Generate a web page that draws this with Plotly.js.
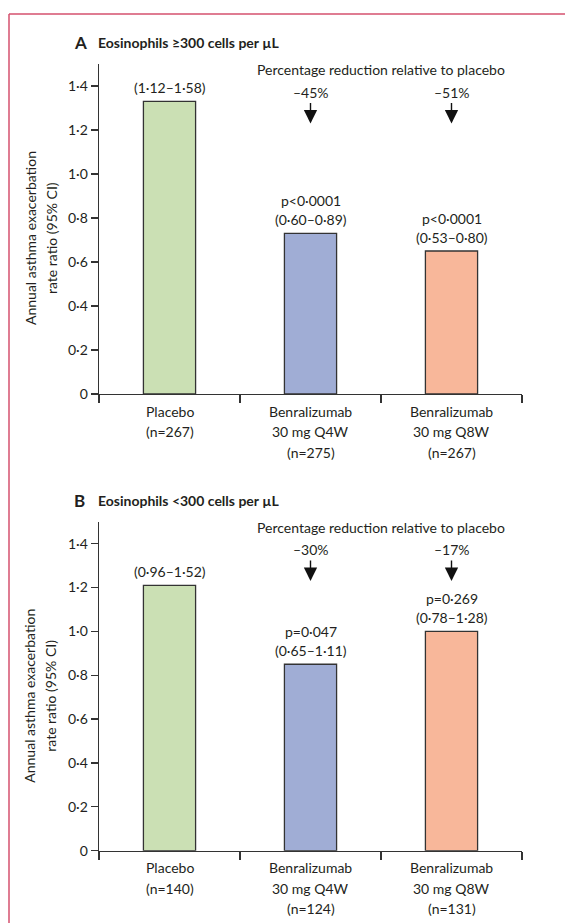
<!DOCTYPE html>
<html>
<head>
<meta charset="utf-8">
<script src="https://cdn.plot.ly/plotly-3.0.1.min.js"></script>
<style>html,body{margin:0;padding:0;background:#fff;}#chart{width:565px;height:923px;}</style>
</head>
<body>
<div id="chart"></div>
<script>
// ---------- data ----------
var categories = ['Placebo', 'Benralizumab 30 mg Q4W', 'Benralizumab 30 mg Q8W'];
var tickLinesA = [['Placebo', '(n=267)'], ['Benralizumab', '30 mg Q4W', '(n=275)'], ['Benralizumab', '30 mg Q8W', '(n=267)']];
var tickLinesB = [['Placebo', '(n=140)'], ['Benralizumab', '30 mg Q4W', '(n=124)'], ['Benralizumab', '30 mg Q8W', '(n=131)']];
var valuesA = [1.33, 0.73, 0.65];
var valuesB = [1.21, 0.85, 1.00];
var ciA = ['(1·12–1·58)', '(0·60–0·89)', '(0·53–0·80)'];
var ciB = ['(0·96–1·52)', '(0·65–1·11)', '(0·78–1·28)'];
var pA = ['', 'p&lt;0·0001', 'p&lt;0·0001'];
var pB = ['', 'p=0·047', 'p=0·269'];
var reductionA = ['', '–45%', '–51%'];
var reductionB = ['', '–30%', '–17%'];
var titleA = 'Eosinophils ≥300 cells per µL';
var titleB = 'Eosinophils &lt;300 cells per µL';
var yTickVals = [0, 0.2, 0.4, 0.6, 0.8, 1.0, 1.2, 1.4];
var yTickText = ['0', '0·2', '0·4', '0·6', '0·8', '1·0', '1·2', '1·4'];
var yTitleLines = ['Annual asthma exacerbation', 'rate ratio (95% CI)'];
var reductionHeader = 'Percentage reduction relative to placebo';
var barColors = ['#cbe0b4', '#a0add5', '#f8b79a'];

// ---------- layout helpers ----------
var W = 565, H = 923;
function px(x) { return x / W; }
function py(y) { return 1 - y / H; }
var FONT = 'Lato, "Open Sans", sans-serif';
var TXT = '#231f20';
var AX = '#333333';

function yAxis(top, bottom) {
  return {
    domain: [py(bottom), py(top)], range: [0, 1.5], tickvals: yTickVals, ticktext: yTickText,
    showline: true, linecolor: AX, linewidth: 1.3, ticks: 'outside', ticklen: 7, tickwidth: 1.3,
    tickcolor: AX, showgrid: false, zeroline: false, tickfont: {family: FONT, size: 14, color: TXT},
    fixedrange: true
  };
}
function xAxis(anchor) {
  return {
    domain: [px(99), px(522)], type: 'category', categoryarray: categories, range: [-0.5, 2.5],
    tickson: 'boundaries', showticklabels: false,
    ticks: 'outside', ticklen: 8, tickwidth: 1.3, tickcolor: AX, showline: true, linecolor: AX,
    linewidth: 1.3, showgrid: false, zeroline: false, anchor: anchor, fixedrange: true
  };
}

var traces = [
  {type: 'bar', x: categories, y: valuesA, xaxis: 'x', yaxis: 'y', width: 0.37,
   marker: {color: barColors, line: {color: AX, width: 1.3}}, hoverinfo: 'none'},
  {type: 'bar', x: categories, y: valuesB, xaxis: 'x2', yaxis: 'y2', width: 0.37,
   marker: {color: barColors, line: {color: AX, width: 1.3}}, hoverinfo: 'none'}
];

var annotations = [];
function txt(o) {
  o.showarrow = false;
  o.font = o.font || {family: FONT, size: 14, color: TXT};
  annotations.push(o);
}
function panel(letter, title, tickLines, vals, ci, p, red, xr, yr, topPx) {
  // panel heading
  txt({xref: 'paper', yref: 'paper', x: px(72), y: py(topPx - 21), xanchor: 'left', yanchor: 'middle',
    text: '<b>' + letter + '</b>', font: {family: FONT, size: 17, color: TXT}});
  txt({xref: 'paper', yref: 'paper', x: px(96), y: py(topPx - 21), xanchor: 'left', yanchor: 'middle',
    text: '<b>' + title + '</b>'});
  // y title (two lines)
  var midPx = topPx + 174;
  txt({xref: 'paper', yref: 'paper', x: px(30), y: py(midPx), xanchor: 'center', yanchor: 'middle',
    textangle: -90, text: yTitleLines[0]});
  txt({xref: 'paper', yref: 'paper', x: px(51), y: py(midPx), xanchor: 'center', yanchor: 'middle',
    textangle: -90, text: yTitleLines[1]});
  // reduction header
  txt({xref: xr, yref: yr + ' domain', x: 1.5, y: 0.982, xanchor: 'center', yanchor: 'middle',
    text: reductionHeader});
  for (var i = 0; i < categories.length; i++) {
    // category labels below the axis, one line each
    for (var k = 0; k < tickLines[i].length; k++) {
      txt({xref: xr, yref: yr + ' domain', x: categories[i], y: 0, xanchor: 'center', yanchor: 'middle',
        yshift: -(17 + 20.5 * k), text: tickLines[i][k]});
    }
    // CI and p-value above bar
    txt({xref: xr, yref: yr, x: categories[i], y: vals[i], xanchor: 'center', yanchor: 'bottom', yshift: 3,
      text: ci[i]});
    if (p[i]) {
      txt({xref: xr, yref: yr, x: categories[i], y: vals[i], xanchor: 'center', yanchor: 'bottom', yshift: 22.5,
        text: p[i]});
    }
    if (red[i]) {
      txt({xref: xr, yref: yr + ' domain', x: categories[i], y: 0.914, xanchor: 'center', yanchor: 'middle',
        text: red[i]});
      annotations.push({xref: xr, yref: yr + ' domain', x: categories[i], y: 0.820, text: '', showarrow: true,
        ax: 0, ay: -22, arrowhead: 2, arrowsize: 1.9, arrowwidth: 1.4, arrowcolor: '#111'});
    }
  }
}
panel('A', titleA, tickLinesA, valuesA, ciA, pA, reductionA, 'x', 'y', 64);
panel('B', titleB, tickLinesB, valuesB, ciB, pB, reductionB, 'x2', 'y2', 521.7);

var layout = {
  width: W, height: H, autosize: false, showlegend: false,
  margin: {l: 0, r: 0, t: 0, b: 0}, paper_bgcolor: '#ffffff', plot_bgcolor: 'rgba(0,0,0,0)',
  font: {family: FONT, size: 14, color: TXT},
  xaxis: xAxis('y'), yaxis: yAxis(64, 394),
  xaxis2: xAxis('y2'), yaxis2: yAxis(521.7, 850.7),
  annotations: annotations,
  shapes: [
    {type: 'line', xref: 'paper', yref: 'paper', x0: px(9), x1: 1.01, y0: py(14), y1: py(14), line: {color: '#d4506e', width: 1.5}},
    {type: 'line', xref: 'paper', yref: 'paper', x0: px(9), x1: px(9), y0: py(14), y1: -0.01, line: {color: '#d4506e', width: 1.5}}
  ]
};
Plotly.newPlot('chart', traces, layout, {staticPlot: true, displayModeBar: false});
</script>
</body>
</html>
